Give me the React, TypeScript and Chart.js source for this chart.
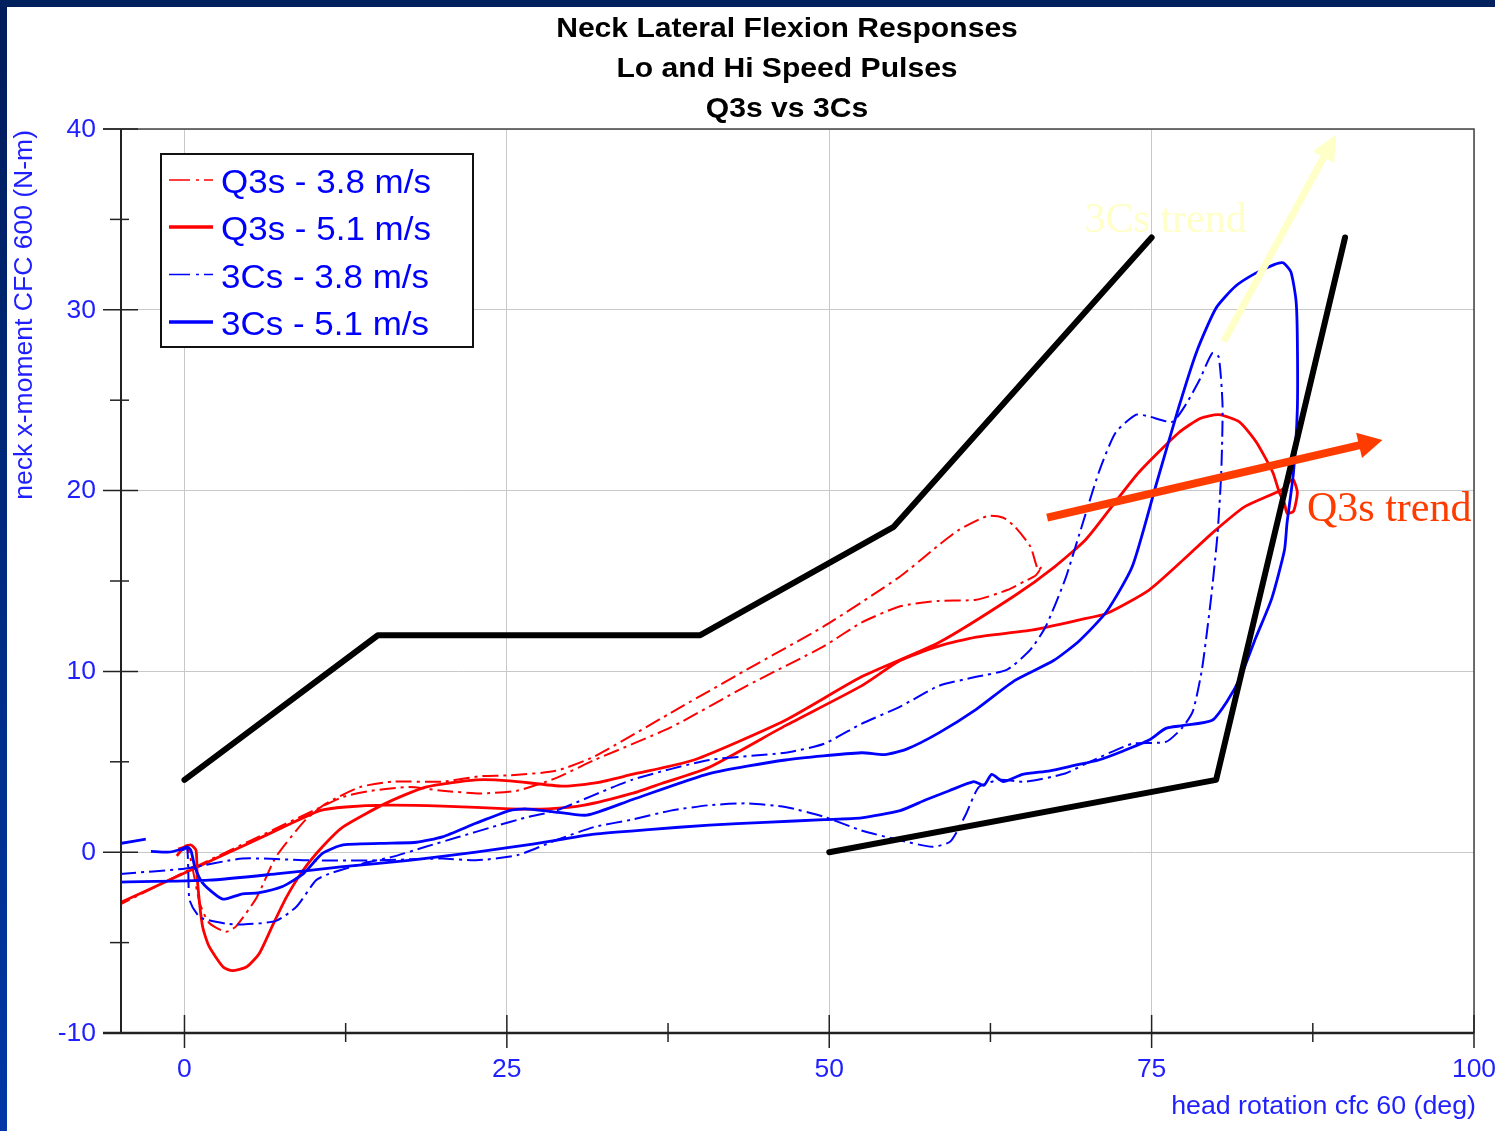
import { useEffect, useRef } from "react";
import { Chart, registerables } from "chart.js";

Chart.register(...registerables);

// ---------- axis / text content ----------
const X_TICKS = [0, 25, 50, 75, 100];
const X_MINOR = [12.5, 37.5, 62.5, 87.5];
const Y_TICKS = [-10, 0, 10, 20, 30, 40];
const Y_MINOR = [-5, 5, 15, 25, 35];
const TITLE_LINES = ["Neck Lateral Flexion Responses", "Lo and Hi Speed Pulses", "Q3s vs 3Cs"];
const X_TITLE = "head rotation cfc 60 (deg)";
const Y_TITLE = "neck x-moment CFC 600 (N-m)";
const SERIES_NAMES = ["Q3s - 3.8 m/s", "Q3s - 5.1 m/s", "3Cs - 3.8 m/s", "3Cs - 5.1 m/s"];
const TREND_LABELS = ["3Cs trend", "Q3s trend"];

type P = [number, number] | null;

// ---------- series (head rotation deg, moment N-m) ----------
const q3s38: P[] = [
  [-0.5, 0.2], [0.2, 0.3], [0.6, -0.8], [1.2, -2.85], [1.9, -3.9], [3.2, -4.4], [4.0, -4.1],
  [5.6, -2.5], [7.1, -0.25], [9.4, 1.8], [11, 2.7], [13.6, 3.6], [16.1, 3.9], [20, 3.9],
  [22.9, 4.2], [25.2, 4.25], [28.8, 4.5], [31.8, 5.3], [37.7, 7.7], [43.6, 10.1], [49.6, 12.5],
  [55.5, 15.25], [58, 16.7], [60, 17.8], [62.3, 18.6], [63.5, 18.5], [64.4, 18.0], [65.6, 16.9],
  [66.2, 15.6], [66.5, 15.8], [66.0, 15.3], [65.2, 15.0], [63.8, 14.5], [61.4, 13.96], [58.5, 13.9],
  [55.5, 13.6], [52.5, 12.7], [49.6, 11.4], [43.6, 9.2], [37.7, 6.9], [31.8, 5.1], [28.8, 4.1],
  [25.8, 3.4], [22.9, 3.25], [20, 3.4], [17.4, 3.6], [14.5, 3.4], [12.3, 3.06], [10, 2.3],
  [5, 0.6], [0, -1.1], [-5, -2.9],
];

const q3s51: P[] = [
  [-0.6, -0.2], [0, 0.3], [0.5, 0.4], [0.9, 0.1], [1.0, -1.55], [1.4, -4.1], [1.9, -5.2],
  [3.0, -6.35], [3.7, -6.55], [4.8, -6.35], [5.8, -5.6], [6.8, -4.1], [7.9, -2.5], [9.2, -1.0],
  [10.7, 0.3], [12.3, 1.4], [15.6, 2.7], [18.7, 3.6], [22.6, 4.0], [25.2, 3.95], [29.4, 3.65],
  [32, 3.85], [34.7, 4.3], [39.5, 5.1], [46.6, 7.3], [52.5, 9.7], [58.5, 11.6], [64.4, 14.2],
  [67.5, 15.8], [69.9, 17.3], [72, 19.2], [74, 21], [77.1, 23.2], [78.8, 24.0], [80.2, 24.2],
  [81.8, 23.8], [83.1, 22.7], [84.4, 21.0], [84.9, 19.9], [85.3, 19.3], [85.5, 18.75], [86.0, 18.85],
  [86.3, 19.9], [86.0, 20.6], [85.7, 20.5], [85.1, 20.05], [82.2, 19.1], [79.7, 17.65], [77.5, 16.2],
  [74.8, 14.5], [71.5, 13.2], [69.4, 12.85], [65.8, 12.3], [61.4, 11.9], [58.5, 11.4], [55.5, 10.6],
  [52.5, 9.2], [46.6, 7.0], [40.7, 4.7], [37, 3.8], [34.7, 3.25], [31, 2.6], [28.2, 2.4],
  [25.2, 2.4], [20, 2.55], [15.7, 2.6], [12.5, 2.5], [10.5, 2.3], [8, 1.5], [5, 0.5], [0, -1.15],
  [-5, -2.8],
];

const cs38: P[] = [
  [-0.2, 0.1], [0.2, 0.2], [0.3, -1.2], [0.4, -2.66], [1.2, -3.6], [3.2, -3.95], [4.5, -4.0],
  [7.1, -3.8], [8.7, -3.0], [10.2, -1.55], [11.2, -1.2], [13.8, -0.63], [16.1, -0.26], [18.7, 0.3],
  [21.3, 0.85], [23.9, 1.4], [26.7, 1.96], [28.8, 2.3], [34.7, 4.0], [40.7, 5.1], [46.6, 5.5],
  [49.6, 6.0], [52.5, 7.1], [55.5, 8.05], [58.5, 9.2], [61.4, 9.7], [63.8, 10.1], [65.6, 11.2],
  [66.8, 12.5], [68.3, 15.1], [69.4, 17.6], [70.9, 21.0], [72.2, 23.2], [73.8, 24.2], [74.8, 24.1],
  [76.6, 23.8], [77.6, 24.7], [78.7, 26.1], [79.7, 27.6], [80.2, 27.4], [80.5, 24.7], [80.4, 21.0],
  [80.1, 17.5], [79.6, 14.0], [78.9, 10.1], [78.2, 7.8], [77.4, 6.9], [76.1, 6.1], [73.5, 6.0],
  [69.9, 4.9], [68.3, 4.35], [65.2, 3.9], [63.2, 4.0], [61.6, 3.6], [60.6, 2.1], [59.4, 0.6],
  [58, 0.3], [55.5, 0.66], [52.5, 1.2], [49.6, 1.96], [46.6, 2.5], [43.6, 2.7], [40.7, 2.6],
  [37.7, 2.3], [34.7, 1.8], [31.8, 1.4], [28.8, 0.66], [25.8, -0.17], [22.6, -0.45], [20, -0.35],
  [14.9, -0.45], [9.7, -0.45], [4.5, -0.35], [0.1, -0.9], [-5, -1.2],
];

const cs51: P[] = [
  [-5, 0.48], [-3, 0.72], null,
  [-2.6, 0.05], [-1.3, 0.0], [-0.3, 0.15], [0.2, 0.3], [0.5, 0.1], [0.8, -0.8], [1.4, -1.7],
  [2.5, -2.4], [3.1, -2.6], [4.5, -2.3], [5.7, -2.25], [7.6, -1.9], [9.2, -1.2], [10.7, -0.07],
  [12.3, 0.4], [16.1, 0.5], [18, 0.55], [20, 0.85], [22.6, 1.6], [25.2, 2.3], [26.4, 2.4],
  [28.5, 2.25], [31.2, 2.05], [34.7, 2.9], [40.7, 4.35], [46.6, 5.1], [52.5, 5.5], [54.3, 5.4],
  [56, 5.7], [58.5, 6.6], [61.4, 7.9], [64.4, 9.5], [67.4, 10.6], [69.4, 11.7], [71.5, 13.3],
  [73.5, 15.8], [75.3, 20.2], [77.1, 24.6], [78.5, 27.7], [80, 30.1], [81.5, 31.3], [83, 32.0],
  [84.5, 32.5], [85.2, 32.6], [85.8, 32.1], [86.2, 30.5], [86.3, 28.4], [86.3, 24.5], [86.0, 21.0],
  [85.5, 18.2], [85.3, 16.7], [84.3, 14.0], [83.1, 11.9], [81.9, 9.7], [80.9, 8.4], [79.7, 7.3],
  [77.4, 7.0], [76.1, 6.85], [74.8, 6.2], [72.8, 5.6], [70.9, 5.1], [69, 4.8], [67.1, 4.5],
  [65, 4.3], [63.5, 3.9], [62.6, 4.3], [62, 3.7], [61.2, 3.9], [59.3, 3.4], [57.5, 2.9],
  [55.5, 2.3], [52.5, 1.9], [49.6, 1.8], [45, 1.65], [40.7, 1.5], [36, 1.25], [31.8, 1.0],
  [27, 0.45], [22.6, 0.0], [17.4, -0.45], [12.3, -0.8], [7.1, -1.2], [1.9, -1.55], [-5, -1.65],
];

// ---------- corridors ----------
const upperCorridor: P[] = [[0, 4], [15, 12], [40, 12], [55, 18], [75, 34]];
const lowerCorridor: P[] = [[50, 0], [80, 4], [90, 34]];

// ---------- trend arrows (start, tip) and label anchors ----------
const cs3TrendArrow: [number, number][] = [[80.6, 28.25], [89.3, 39.7]];
const q3sTrendArrow: [number, number][] = [[66.9, 18.5], [92.9, 22.8]];
const trendLabelAnchors: [number, number][] = [[69.8, 34.3], [87.05, 18.3]];

const SANS = "'Liberation Sans', Arial, Helvetica, sans-serif";
const SERIF = "'Liberation Serif', 'Times New Roman', serif";
const BLUE_TEXT = "#1f1fff";

function toPoints(arr: P[]) {
  const out: { x: number; y: number | null }[] = [];
  let lastX = 0;
  for (const p of arr) {
    if (p) {
      out.push({ x: p[0], y: p[1] });
      lastX = p[0];
    } else out.push({ x: lastX, y: null });
  }
  return out;
}

function drawText(
  ctx: CanvasRenderingContext2D, s: string, x: number, y: number, font: string,
  color: string, align: "left" | "center" | "right", baseline: CanvasTextBaseline, sx = 1.06
) {
  ctx.save();
  ctx.font = font;
  ctx.fillStyle = color;
  ctx.textBaseline = baseline;
  ctx.textAlign = "left";
  const w = ctx.measureText(s).width * sx;
  const left = align === "center" ? x - w / 2 : align === "right" ? x - w : x;
  ctx.translate(left, y);
  ctx.scale(sx, 1);
  ctx.fillText(s, 0, 0);
  ctx.restore();
}

function drawArrow(
  ctx: CanvasRenderingContext2D, x1: number, y1: number, x2: number, y2: number,
  color: string, width: number, headLen: number, headHalf: number
) {
  const a = Math.atan2(y2 - y1, x2 - x1);
  const bx = x2 - headLen * Math.cos(a);
  const by = y2 - headLen * Math.sin(a);
  ctx.save();
  ctx.strokeStyle = color;
  ctx.lineWidth = width;
  ctx.lineCap = "butt";
  ctx.beginPath();
  ctx.moveTo(x1, y1);
  ctx.lineTo(bx + Math.cos(a) * 2, by + Math.sin(a) * 2);
  ctx.stroke();
  ctx.fillStyle = color;
  ctx.beginPath();
  ctx.moveTo(x2, y2);
  ctx.lineTo(bx + headHalf * Math.sin(a), by - headHalf * Math.cos(a));
  ctx.lineTo(bx - headHalf * Math.sin(a), by + headHalf * Math.cos(a));
  ctx.closePath();
  ctx.fill();
  ctx.restore();
}

const backgroundPlugin = {
  id: "slideBackground",
  beforeDraw(chart: any) {
    const { ctx, width, height } = chart;
    ctx.save();
    ctx.fillStyle = "#ffffff";
    ctx.fillRect(0, 0, width, height);
    const g = ctx.createLinearGradient(0, 0, 0, height);
    g.addColorStop(0, "#001c5a");
    g.addColorStop(1, "#0038a6");
    ctx.fillStyle = g;
    ctx.fillRect(0, 0, 7, height);
    ctx.fillStyle = "#00205e";
    ctx.fillRect(0, 0, width, 7);
    ctx.restore();
  },
};

const decorPlugin = {
  id: "decor",
  afterDraw(chart: any) {
    const { ctx, chartArea } = chart;
    const xs = chart.scales.x;
    const ys = chart.scales.y;
    const L = chartArea.left, R = chartArea.right, T = chartArea.top, B = chartArea.bottom;
    ctx.save();

    // axes frame
    ctx.strokeStyle = "#222";
    ctx.lineWidth = 2;
    ctx.beginPath();
    ctx.moveTo(L + 1, T);
    ctx.lineTo(L + 1, B);
    ctx.stroke();
    ctx.lineWidth = 2.5;
    ctx.beginPath();
    ctx.moveTo(L - 17, B);
    ctx.lineTo(R, B);
    ctx.stroke();
    ctx.strokeStyle = "#444";
    ctx.lineWidth = 1.5;
    ctx.beginPath();
    ctx.moveTo(L - 17, T);
    ctx.lineTo(R, T);
    ctx.lineTo(R, B);
    ctx.stroke();

    // y ticks
    ctx.strokeStyle = "#222";
    ctx.lineWidth = 1.5;
    for (const v of Y_TICKS) {
      const py = ys.getPixelForValue(v);
      ctx.beginPath();
      ctx.moveTo(L - 17, py);
      ctx.lineTo(L + 18, py);
      ctx.stroke();
      drawText(ctx, String(v), L - 24, py + 1, `25px ${SANS}`, BLUE_TEXT, "right", "middle");
    }
    for (const v of Y_MINOR) {
      const py = ys.getPixelForValue(v);
      ctx.beginPath();
      ctx.moveTo(L - 10, py);
      ctx.lineTo(L + 9, py);
      ctx.stroke();
    }
    // x ticks
    for (const v of X_TICKS) {
      const px = xs.getPixelForValue(v);
      ctx.beginPath();
      ctx.moveTo(px, B - 18);
      ctx.lineTo(px, B + 15);
      ctx.stroke();
      drawText(ctx, String(v), px, B + 37, `25px ${SANS}`, BLUE_TEXT, "center", "middle");
    }
    for (const v of X_MINOR) {
      const px = xs.getPixelForValue(v);
      ctx.beginPath();
      ctx.moveTo(px, B - 10);
      ctx.lineTo(px, B + 9);
      ctx.stroke();
    }

    // axis titles
    drawText(ctx, X_TITLE, R + 2, B + 81, `25px ${SANS}`, BLUE_TEXT, "right", "alphabetic", 1.07);
    ctx.save();
    ctx.translate(25, T + 1);
    ctx.rotate(-Math.PI / 2);
    drawText(ctx, Y_TITLE, 0, 0, `26px ${SANS}`, BLUE_TEXT, "right", "middle", 1.02);
    ctx.restore();

    // chart title
    TITLE_LINES.forEach((line, i) => {
      drawText(ctx, line, 787, 37 + i * 40, `bold 28px ${SANS}`, "#000", "center", "alphabetic", 1.075);
    });

    // trend arrows
    const ya = cs3TrendArrow.map(([x, y]) => [xs.getPixelForValue(x), ys.getPixelForValue(y)]);
    drawArrow(ctx, ya[0][0], ya[0][1], ya[1][0], ya[1][1], "#ffffc8", 7, 26, 12);
    const ra = q3sTrendArrow.map(([x, y]) => [xs.getPixelForValue(x), ys.getPixelForValue(y)]);
    drawArrow(ctx, ra[0][0], ra[0][1], ra[1][0], ra[1][1], "#ff3c00", 8, 24, 13);

    // trend labels
    const [c3, q3] = trendLabelAnchors;
    drawText(ctx, TREND_LABELS[0], xs.getPixelForValue(c3[0]), ys.getPixelForValue(c3[1]),
      `42px ${SERIF}`, "#ffffc8", "left", "alphabetic", 1);
    drawText(ctx, TREND_LABELS[1], xs.getPixelForValue(q3[0]), ys.getPixelForValue(q3[1]),
      `42px ${SERIF}`, "#ff3c00", "left", "alphabetic", 1);

    // legend
    const lx = 161, ly = 154, lw = 312, lh = 193;
    ctx.fillStyle = "#fff";
    ctx.fillRect(lx, ly, lw, lh);
    ctx.strokeStyle = "#111";
    ctx.lineWidth = 2;
    ctx.strokeRect(lx, ly, lw, lh);
    const rows = [180, 227, 274.5, 322];
    const legendStyles = chart.data.datasets.slice(0, 4);
    SERIES_NAMES.forEach((name, i) => {
      const ds = legendStyles.find((d: any) => d.label === name);
      const cy = rows[i];
      ctx.save();
      ctx.strokeStyle = ds.borderColor;
      if (ds.borderDash && ds.borderDash.length) {
        ctx.lineWidth = 1.6;
        ctx.setLineDash([21, 6, 3, 5]);
      } else {
        ctx.lineWidth = 3.5;
      }
      ctx.beginPath();
      ctx.moveTo(169, cy);
      ctx.lineTo(213, cy);
      ctx.stroke();
      ctx.restore();
      drawText(ctx, name, 221, cy + 13, `33px ${SANS}`, "#0000ff", "left", "alphabetic", 1.06);
    });

    ctx.restore();
  },
};

export default function App() {
  const ref = useRef<HTMLCanvasElement | null>(null);

  useEffect(() => {
    if (!ref.current) return;
    const dash = [16, 5, 3, 5];
    const chart = new Chart(ref.current, {
      type: "scatter",
      data: {
        datasets: [
          { label: SERIES_NAMES[0], data: toPoints(q3s38), borderColor: "#ff0000", borderWidth: 2, borderDash: dash, showLine: true, tension: 0.2, order: 5 },
          { label: SERIES_NAMES[1], data: toPoints(q3s51), borderColor: "#ff0000", borderWidth: 2.8, showLine: true, tension: 0.2, order: 4 },
          { label: SERIES_NAMES[2], data: toPoints(cs38), borderColor: "#0000ff", borderWidth: 2, borderDash: dash, showLine: true, tension: 0.2, order: 3 },
          { label: SERIES_NAMES[3], data: toPoints(cs51), borderColor: "#0000ff", borderWidth: 2.8, showLine: true, tension: 0.2, order: 2 },
          { label: "upper corridor", data: toPoints(upperCorridor), borderColor: "#000", borderWidth: 6, showLine: true, tension: 0, borderCapStyle: "round", borderJoinStyle: "round", order: 1 },
          { label: "lower corridor", data: toPoints(lowerCorridor), borderColor: "#000", borderWidth: 6, showLine: true, tension: 0, borderCapStyle: "round", borderJoinStyle: "round", order: 1 },
        ] as any,
      },
      options: {
        animation: false,
        responsive: false,
        events: [],
        spanGaps: false,
        layout: { padding: { left: 120, top: 129, right: 21, bottom: 98 } },
        elements: { point: { radius: 0, hoverRadius: 0 } },
        plugins: {
          legend: { display: false },
          tooltip: { enabled: false },
          title: { display: false },
        },
        scales: {
          x: {
            type: "linear",
            min: -5,
            max: 100,
            afterBuildTicks: (s: any) => {
              s.ticks = X_TICKS.map((v) => ({ value: v }));
            },
            ticks: { display: false },
            grid: { color: "#c8c8c8", lineWidth: 1, drawTicks: false },
            border: { display: false },
          },
          y: {
            type: "linear",
            min: -10,
            max: 40,
            afterBuildTicks: (s: any) => {
              s.ticks = Y_TICKS.map((v) => ({ value: v }));
            },
            ticks: { display: false },
            grid: { color: "#c8c8c8", lineWidth: 1, drawTicks: false },
            border: { display: false },
          },
        },
      } as any,
      plugins: [backgroundPlugin, decorPlugin],
    });
    return () => chart.destroy();
  }, []);

  return (
    <div style={{ position: "absolute", left: 0, top: 0, width: 1495, height: 1131 }}>
      <canvas ref={ref} width={1495} height={1131} style={{ display: "block", width: 1495, height: 1131 }} />
    </div>
  );
}
